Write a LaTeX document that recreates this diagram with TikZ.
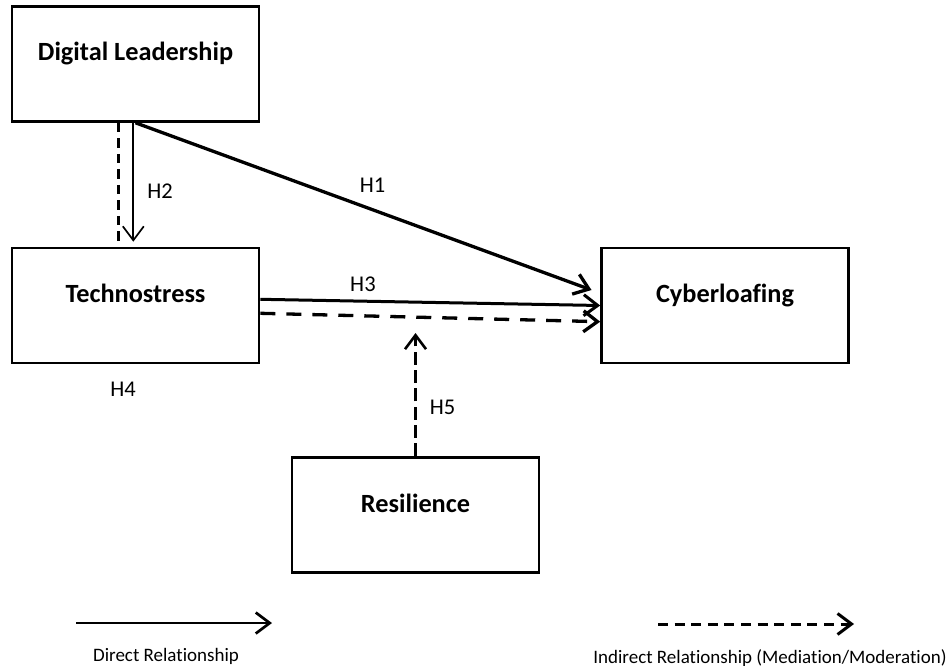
\documentclass[tikz,border=0pt]{standalone}
\usepackage{fontspec}
\setmainfont{Carlito}[Ligatures=NoCommon]
\usepackage{tikz}
\usetikzlibrary{arrows.meta}

\begin{document}
\begin{tikzpicture}[x=1pt,y=-1pt]
\tikzstyle{construct} = [draw, line width=2.6pt, minimum width=247pt, minimum height=115pt, inner sep=0, font=\fontsize{26.3}{30}\selectfont\bfseries, text height=17pt, text depth=23pt]
\tikzstyle{hlabel} = [font=\fontsize{22.5}{27}\selectfont, inner sep=1pt]
\tikzstyle{legendtext} = [font=\fontsize{19}{23}\selectfont, anchor=base, inner sep=0]
\tikzstyle{direct} = [line width=3pt, -{Straight Barb[length=14pt,width=21pt]}]
\tikzstyle{indirect} = [direct, dash pattern=on 15pt off 11pt]

\useasboundingbox (0,0) rectangle (946,666);

\node(leader)[construct] at (135.5,64) {Digital Leadership};
\node(techno)[construct, below of=leader, node distance=241.5pt]{Technostress};
\node(cyber)[construct, right of=techno, node distance=589.5pt]{Cyberloafing};
\node(resil)[construct, below of=techno, node distance=209.5pt, xshift=280pt]{Resilience};
\node(h4)[hlabel, below of=techno, node distance=83.5pt, xshift=-12.5pt]{H4};

\coordinate (modpoint) at (415.5,333);

% paths
\draw [direct, line width=3.3pt] (leader.south) -- node[hlabel, pos=0.52, yshift=24pt] (h1) {H1} ([xshift=-8.7pt,yshift=15.5pt]cyber.west);
\draw [direct, line width=1.7pt] ([xshift=-2.2pt]leader.south) -- node[hlabel, pos=0.573, xshift=26.7pt] (h2) {H2} ([xshift=-2.2pt,yshift=5pt]techno.north);
\draw [indirect, arrows=-, line width=3.3pt, dash pattern=on 9.5pt off 6pt] ([xshift=-17.2pt]leader.south) -- ([xshift=-17.2pt]techno.north);
\draw [direct] ([yshift=6.2pt]techno.east) -- node[hlabel, pos=0.302, yshift=17pt] (h3) {H3} (cyber.west);
\draw [indirect, line width=3.3pt] ([yshift=-7.8pt]techno.east) -- ([yshift=-16.2pt]cyber.west);
\draw [indirect, line width=2.6pt, dash pattern=on 13pt off 5.3pt] (resil.north) -- node[hlabel, pos=0.394, xshift=27pt] (h5) {H5} (modpoint);

% legend
\coordinate (dirstart) at (76,623);
\coordinate (dirend) at (272,623);
\coordinate (indstart) at (658,624);
\coordinate (indend) at (854,624);
\draw [direct, line width=2.7pt] (dirstart) -- (dirend);
\draw [indirect, line width=3pt, dash pattern=on 10pt off 6.6pt] (indstart) -- (indend);
\node(dirlbl)[legendtext] at (166,661.7) {Direct Relationship};
\node(indlbl)[legendtext] at (770,663) {Indirect Relationship (Mediation/Moderation)};
\end{tikzpicture}
\end{document}
